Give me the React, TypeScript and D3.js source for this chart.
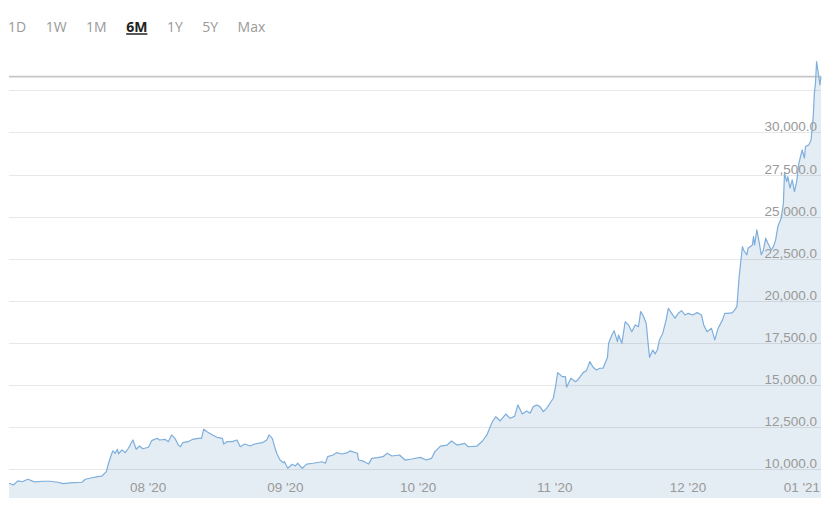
import React, { useEffect, useRef } from "react";
import * as d3 from "d3";

const ranges = ["1D", "1W", "1M", "6M", "1Y", "5Y", "Max"];
const activeRange = "6M";

const dates = [
  "2020-07-05T00", "2020-07-06T00", "2020-07-07T00", "2020-07-08T00", "2020-07-09T06", "2020-07-10T06",
  "2020-07-10T18", "2020-07-12T18", "2020-07-14T06", "2020-07-16T00", "2020-07-17T06", "2020-07-18T18",
  "2020-07-21T12", "2020-07-22T06", "2020-07-23T06", "2020-07-25T00", "2020-07-26T00", "2020-07-27T00",
  "2020-07-27T12", "2020-07-28T06", "2020-07-28T12", "2020-07-29T00", "2020-07-29T12", "2020-07-29T18",
  "2020-07-30T12", "2020-07-31T06", "2020-08-01T00", "2020-08-01T12", "2020-08-02T00", "2020-08-02T18",
  "2020-08-03T12", "2020-08-04T06", "2020-08-05T12", "2020-08-06T06", "2020-08-07T12", "2020-08-08T00",
  "2020-08-09T06", "2020-08-10T00", "2020-08-10T18", "2020-08-11T12", "2020-08-12T06", "2020-08-12T18",
  "2020-08-13T06", "2020-08-14T12", "2020-08-15T12", "2020-08-16T18", "2020-08-17T12", "2020-08-18T00",
  "2020-08-18T18", "2020-08-20T00", "2020-08-21T00", "2020-08-22T06", "2020-08-22T12", "2020-08-23T06",
  "2020-08-24T12", "2020-08-25T12", "2020-08-26T06", "2020-08-27T06", "2020-08-28T12", "2020-08-29T12",
  "2020-08-31T06", "2020-09-01T06", "2020-09-01T18", "2020-09-02T12", "2020-09-03T00", "2020-09-03T12",
  "2020-09-04T06", "2020-09-05T00", "2020-09-05T06", "2020-09-06T00", "2020-09-07T00", "2020-09-07T18",
  "2020-09-08T06", "2020-09-09T06", "2020-09-10T06", "2020-09-11T18", "2020-09-13T18", "2020-09-14T12",
  "2020-09-15T00", "2020-09-16T06", "2020-09-17T00", "2020-09-18T06", "2020-09-19T12", "2020-09-20T00",
  "2020-09-21T18", "2020-09-22T00", "2020-09-23T00", "2020-09-24T06", "2020-09-25T00", "2020-09-26T06",
  "2020-09-27T12", "2020-09-28T12", "2020-09-29T12", "2020-10-01T06", "2020-10-02T12", "2020-10-04T00",
  "2020-10-06T00", "2020-10-07T06", "2020-10-08T12", "2020-10-09T06", "2020-10-10T12", "2020-10-12T00",
  "2020-10-13T00", "2020-10-14T06", "2020-10-16T00", "2020-10-16T18", "2020-10-18T18", "2020-10-20T00",
  "2020-10-21T00", "2020-10-21T18", "2020-10-22T06", "2020-10-23T00", "2020-10-24T00", "2020-10-25T06",
  "2020-10-26T06", "2020-10-27T06", "2020-10-28T00", "2020-10-29T00", "2020-10-30T00", "2020-10-30T18",
  "2020-10-31T12", "2020-11-01T06", "2020-11-02T00", "2020-11-02T18", "2020-11-03T12", "2020-11-04T06",
  "2020-11-05T00", "2020-11-05T12", "2020-11-06T00", "2020-11-07T00", "2020-11-07T18", "2020-11-08T00",
  "2020-11-09T00", "2020-11-10T00", "2020-11-10T12", "2020-11-11T18", "2020-11-12T12", "2020-11-13T06",
  "2020-11-14T00", "2020-11-14T18", "2020-11-15T12", "2020-11-16T06", "2020-11-17T06", "2020-11-17T12",
  "2020-11-18T06", "2020-11-18T18", "2020-11-19T12", "2020-11-19T18", "2020-11-20T12", "2020-11-21T06",
  "2020-11-22T00", "2020-11-22T18", "2020-11-23T12", "2020-11-24T06", "2020-11-24T18", "2020-11-25T06",
  "2020-11-26T00", "2020-11-26T12", "2020-11-26T18", "2020-11-27T12", "2020-11-28T00", "2020-11-28T12",
  "2020-11-29T00", "2020-11-29T18", "2020-11-30T12", "2020-12-01T00", "2020-12-01T18", "2020-12-02T12",
  "2020-12-03T06", "2020-12-04T00", "2020-12-04T18", "2020-12-05T12", "2020-12-06T12", "2020-12-07T12",
  "2020-12-08T12", "2020-12-09T00", "2020-12-09T18", "2020-12-10T18", "2020-12-11T12", "2020-12-12T06",
  "2020-12-13T06", "2020-12-13T18", "2020-12-14T12", "2020-12-15T12", "2020-12-16T00", "2020-12-16T12",
  "2020-12-17T00", "2020-12-17T18", "2020-12-18T00", "2020-12-18T18", "2020-12-19T00", "2020-12-20T00",
  "2020-12-20T06", "2020-12-20T12", "2020-12-21T00", "2020-12-21T12", "2020-12-22T00", "2020-12-22T12",
  "2020-12-23T00", "2020-12-23T12", "2020-12-24T06", "2020-12-24T18", "2020-12-25T06", "2020-12-25T18",
  "2020-12-26T12", "2020-12-27T00", "2020-12-27T06", "2020-12-27T18", "2020-12-28T00", "2020-12-28T12",
  "2020-12-29T00", "2020-12-29T12", "2020-12-30T00", "2020-12-30T12", "2020-12-31T06", "2020-12-31T18",
  "2021-01-01T00", "2021-01-01T18", "2021-01-02T06", "2021-01-02T18", "2021-01-03T00", "2021-01-03T06",
  "2021-01-03T12", "2021-01-04T00", "2021-01-04T06", "2021-01-04T12",
];

const prices = [
  9170, 9070, 9310, 9260, 9410, 9310,
  9250, 9290, 9290, 9230, 9150, 9190,
  9230, 9410, 9470, 9560, 9600, 9860,
  10360, 10950, 11100, 10950, 11190, 10910,
  11150, 10990, 11250, 11500, 11740, 11190,
  11380, 11220, 11310, 11700, 11840, 11740,
  11780, 11640, 12040, 11840, 11440, 11340,
  11580, 11640, 11780, 11840, 11840, 12380,
  12230, 12040, 11900, 11840, 11500, 11640,
  11640, 11740, 11340, 11500, 11380, 11500,
  11580, 11740, 12040, 11840, 11380, 10950,
  10550, 10390, 10450, 10060, 10300, 10200,
  10360, 10060, 10310, 10360, 10450, 10360,
  10750, 10850, 10990, 10910, 10990, 11090,
  10950, 10550, 10490, 10310, 10650, 10690,
  10750, 10950, 10790, 10850, 10550, 10610,
  10710, 10550, 10650, 11050, 11380, 11440,
  11680, 11440, 11540, 11340, 11380, 11680,
  12040, 12530, 12830, 13120, 12870, 13280,
  13030, 13140, 13820, 13280, 13460, 13330,
  13720, 13820, 13720, 13420, 13620, 13920,
  14220, 14900, 15740, 15500, 15500, 14870,
  15400, 15200, 15300, 15740, 15860, 16390,
  16060, 15900, 16000, 16000, 16650, 17480,
  17970, 18230, 17580, 17970, 17480, 18760,
  18570, 18170, 18570, 18470, 19360, 19160,
  18670, 17280, 16650, 17080, 16850, 17080,
  17680, 18080, 18870, 19560, 19260, 18970,
  19260, 19420, 19160, 19260, 19160, 19300,
  19160, 18570, 18170, 18370, 17680, 18370,
  18870, 19260, 19260, 19300, 19460, 19660,
  21440, 23220, 23020, 22730, 23120, 23320,
  23810, 23320, 24210, 23510, 22730, 23020,
  23720, 23420, 23020, 23220, 23620, 24410,
  24900, 25800, 27580, 27080, 27380, 26690,
  27180, 26480, 27080, 28170, 28960, 28470,
  29160, 29260, 29550, 30940, 32330, 32920,
  34200, 33310, 32820, 33310,
];

const yTickValues = [10000, 12500, 15000, 17500, 20000, 22500, 25000, 27500, 30000];
const yGridValues = [10000, 12500, 15000, 17500, 20000, 22500, 25000, 27500, 30000, 32500];
const xTickDates = ["2020-08-01T00", "2020-09-01T00", "2020-10-01T00", "2020-11-01T00", "2020-12-01T00", "2021-01-01T00"];
const xDomain = ["2020-07-05T00", "2021-01-04T12"];
const yDomain = [10000, 32500];

const W = 833;
const H = 509;

function measure(text: string, font: string): number {
  const c = document.createElement("canvas").getContext("2d")!;
  c.font = font;
  return c.measureText(text).width;
}

export default function App() {
  const ref = useRef<SVGSVGElement>(null);

  useEffect(() => {
    const svg = d3.select(ref.current!);
    svg.selectAll("*").remove();

    const parse = d3.utcParse("%Y-%m-%dT%H");
    const data = dates.map((d, i) => ({ t: parse(d)!, v: prices[i] }));

    const left = 9;
    const right = 821;
    const bottom = 498;
    const x = d3.scaleUtc().domain(xDomain.map((d) => parse(d)!)).range([left, right]);
    const y = d3.scaleLinear().domain(yDomain).range([469.3, 90.3]);

    const axisFont = "13.5px 'Liberation Sans', Arial, sans-serif";
    const axisColor = "#999999";

    // area fill
    const area = d3
      .area<{ t: Date; v: number }>()
      .x((d) => x(d.t))
      .y0(bottom)
      .y1((d) => y(d.v));
    svg.append("path").attr("d", area(data)!).attr("fill", "#e5edf4");

    // grid lines
    svg
      .append("g")
      .selectAll("line")
      .data(yGridValues)
      .join("line")
      .attr("x1", left)
      .attr("x2", right)
      .attr("y1", (d) => Math.round(y(d)) + 0.5)
      .attr("y2", (d) => Math.round(y(d)) + 0.5)
      .attr("stroke", "rgba(0,0,0,0.09)")
      .attr("stroke-width", 1);

    // last price line
    const last = data[data.length - 1];
    svg
      .append("line")
      .attr("x1", left)
      .attr("x2", right)
      .attr("y1", y(last.v))
      .attr("y2", y(last.v))
      .attr("stroke", "#c6c6c6")
      .attr("stroke-width", 1.6);

    // y labels
    const fmt = d3.format(",.1f");
    svg
      .append("g")
      .selectAll("text")
      .data(yTickValues)
      .join("text")
      .attr("x", 817)
      .attr("y", (d) => y(d) - 1)
      .attr("text-anchor", "end")
      .style("font", axisFont)
      .attr("fill", axisColor)
      .text((d) => fmt(d));

    // x labels
    const xfmt = d3.utcFormat("%m '%y");
    svg
      .append("g")
      .selectAll("text")
      .data(xTickDates.map((d) => parse(d)!))
      .join("text")
      .each(function (d) {
        const label = xfmt(d);
        const w = measure(label, axisFont);
        let px = x(d) + 1.5;
        if (px + w > 820) px = 820 - w;
        d3.select(this).attr("x", px).text(label);
      })
      .attr("y", 492)
      .style("font", axisFont)
      .attr("fill", axisColor);

    // price line
    const line = d3
      .line<{ t: Date; v: number }>()
      .x((d) => x(d.t))
      .y((d) => y(d.v));
    svg
      .append("path")
      .attr("d", line(data)!)
      .attr("fill", "none")
      .attr("stroke", "#7eaedc")
      .attr("stroke-width", 1.2)
      .attr("stroke-linejoin", "round");

    // range selector
    const btnFont = "14px 'Open Sans', sans-serif";
    const btnFontBold = "bold 14px 'Open Sans', sans-serif";
    let bx = 8;
    const g = svg.append("g");
    ranges.forEach((r) => {
      const active = r === activeRange;
      const f = active ? btnFontBold : btnFont;
      const w = measure(r, f);
      g.append("text")
        .attr("x", bx)
        .attr("y", 32)
        .style("font", f)
        .attr("fill", active ? "#222222" : "#9a9a9a")
        .text(r);
      if (active) {
        g.append("line")
          .attr("x1", bx)
          .attr("x2", bx + w)
          .attr("y1", 34)
          .attr("y2", 34)
          .attr("stroke", "#222222")
          .attr("stroke-width", 1.5);
      }
      bx += w + 19.5;
    });
  }, []);

  return (
    <svg
      ref={ref}
      width={W}
      height={H}
      style={{ position: "absolute", left: 0, top: 0, background: "#ffffff" }}
    />
  );
}
